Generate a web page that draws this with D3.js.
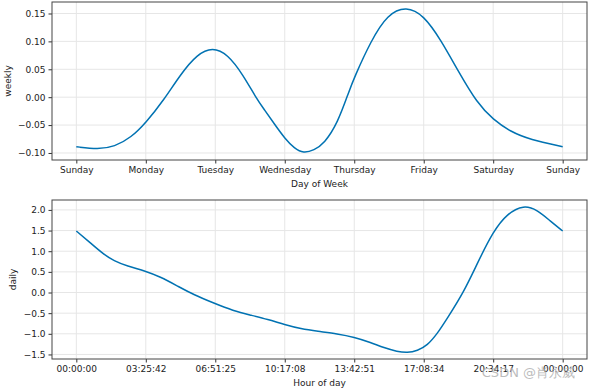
<!DOCTYPE html>
<html>
<head>
<meta charset="utf-8">
<script src="https://cdn.jsdelivr.net/npm/d3@7"></script>
<style>
  body { margin: 0; background: #fff; }
  svg text { font-family: "DejaVu Sans", sans-serif; }
</style>
</head>
<body>
<div id="chart"></div>
<script>
// weekly component (x = day offset from Sunday)
var weekDays = ["Sunday", "Monday", "Tuesday", "Wednesday", "Thursday", "Friday", "Saturday", "Sunday"];
var weeklyX = [0, 0.31, 0.55, 0.79, 1.0, 1.26, 1.5, 1.74, 1.96, 2.18, 2.4, 2.59, 2.71, 2.85, 3.0, 3.14, 3.27, 3.42, 3.57, 3.76, 3.93, 4.0, 4.24, 4.48, 4.75, 5.0, 5.25, 5.49, 5.77, 6.0, 6.25, 6.53, 7.0];
var weeklyY = [-0.0887, -0.0937, -0.0889, -0.072, -0.046, -0.005, 0.041, 0.077, 0.0895, 0.077, 0.040, -0.002, -0.023, -0.048, -0.074, -0.092, -0.1005, -0.0952, -0.0827, -0.047, 0.0125, 0.035, 0.101, 0.149, 0.163, 0.147, 0.102, 0.048, -0.011, -0.040, -0.062, -0.076, -0.0887];
var weeklyTicks = [0.15, 0.10, 0.05, 0.00, -0.05, -0.10];

// daily component (x = hour of day)
var hourLabels = ["00:00:00", "03:25:42", "06:51:25", "10:17:08", "13:42:51", "17:08:34", "20:34:17", "00:00:00"];
var dailyX = [0, 0.70, 1.36, 1.85, 2.5, 3.43, 4.13, 4.95, 5.77, 6.8, 7.73, 8.62, 9.44, 10.29, 11.08, 11.9, 12.89, 13.71, 14.53, 15.18, 15.84, 16.33, 16.83, 17.32, 17.81, 18.31, 19.13, 19.79, 20.57, 21.26, 22.08, 22.74, 23.39, 24];
var dailyY = [1.49, 1.20, 0.92, 0.77, 0.64, 0.52, 0.38, 0.17, -0.05, -0.26, -0.44, -0.55, -0.65, -0.78, -0.88, -0.94, -1.0, -1.08, -1.21, -1.34, -1.43, -1.46, -1.41, -1.28, -1.0, -0.62, 0.02, 0.71, 1.48, 1.91, 2.12, 2.0, 1.73, 1.49];
var dailyTicks = [2.0, 1.5, 1.0, 0.5, 0.0, -0.5, -1.0, -1.5];

var W = 590, H = 392;
var svg = d3.select("#chart").append("svg")
  .attr("width", W)
  .attr("height", H);

function panel(opt) {
  var x = d3.scaleLinear().domain(opt.xDomain).range([52, 587]);
  var y = d3.scaleLinear().domain(opt.yDomain).range([opt.bottom, opt.top]);
  var g = svg.append("g");

  // grid
  g.append("g").selectAll("line")
    .data(opt.xTicks)
    .enter().append("line")
    .attr("x1", function(d) { return x(d); })
    .attr("x2", function(d) { return x(d); })
    .attr("y1", opt.top).attr("y2", opt.bottom)
    .style("stroke", "#e6e6e6").style("stroke-width", 1);
  g.append("g").selectAll("line")
    .data(opt.yTicks)
    .enter().append("line")
    .attr("x1", 52).attr("x2", 587)
    .attr("y1", function(d) { return y(d); })
    .attr("y2", function(d) { return y(d); })
    .style("stroke", "#e6e6e6").style("stroke-width", 1);

  // the curve (basis smooths out reading noise between the sampled points)
  var line = d3.line()
    .x(function(d) { return x(d[0]); })
    .y(function(d) { return y(d[1]); })
    .curve(d3.curveBasis);
  g.append("path")
    .datum(opt.xs.map(function(v, i) { return [v, opt.ys[i]]; }))
    .attr("d", line)
    .style("fill", "none")
    .style("stroke", "#0072B2")
    .style("stroke-width", 1.5);

  // axes
  var xAxis = d3.axisBottom(x)
    .tickValues(opt.xTicks)
    .tickFormat(function(d, i) { return opt.xLabels[i]; })
    .tickSizeOuter(0).tickSize(3.5).tickPadding(3);
  var yAxis = d3.axisLeft(y)
    .tickValues(opt.yTicks)
    .tickFormat(opt.yFormat)
    .tickSizeOuter(0).tickSize(3.5).tickPadding(3);

  var ax = g.append("g").attr("transform", "translate(0," + opt.bottom + ")").call(xAxis);
  var ay = g.append("g").attr("transform", "translate(52,0)").call(yAxis);
  [ax, ay].forEach(function(a) {
    a.select(".domain").remove();
    a.selectAll("line").style("stroke", "#333");
    a.selectAll("text").style("font-size", "9px").style("fill", "#222");
  });

  // frame
  g.append("rect")
    .attr("x", 52).attr("y", opt.top)
    .attr("width", 535).attr("height", opt.bottom - opt.top)
    .style("fill", "none").style("stroke", "#444").style("stroke-width", 1);

  // labels
  g.append("text")
    .attr("x", (52 + 587) / 2).attr("y", opt.bottom + 27)
    .attr("text-anchor", "middle")
    .style("font-size", "9px").style("fill", "#222")
    .text(opt.xTitle);
  g.append("text")
    .attr("transform", "translate(" + opt.yTitleX + "," + ((opt.top + opt.bottom) / 2) + ") rotate(-90)")
    .attr("text-anchor", "middle")
    .style("font-size", "9px").style("fill", "#222")
    .text(opt.yTitle);
}

panel({
  top: 2, bottom: 160,
  xDomain: [-0.35, 7.35], yDomain: [-0.1126, 0.1706],
  xs: weeklyX, ys: weeklyY,
  xTicks: d3.range(8), xLabels: weekDays,
  yTicks: weeklyTicks, yFormat: function(d) { return d3.format(".2f")(d).replace("-", "\u2212"); },
  xTitle: "Day of Week", yTitle: "weekly", yTitleX: 11
});

panel({
  top: 200, bottom: 359,
  xDomain: [-1.2, 25.2], yDomain: [-1.61, 2.24],
  xs: dailyX, ys: dailyY,
  xTicks: d3.range(8).map(function(k) { return k * 24 / 7; }), xLabels: hourLabels,
  yTicks: dailyTicks, yFormat: function(d) { return d3.format(".1f")(d).replace("-", "\u2212"); },
  xTitle: "Hour of day", yTitle: "daily", yTitleX: 16
});

// watermark (sits over the last tick labels, as in the source image)
svg.append("text")
  .attr("x", 575).attr("y", 377)
  .attr("text-anchor", "end")
  .style("font-size", "13px")
  .style("fill", "#b0b0b0")
  .style("fill-opacity", 0.85)
  .text("CSDN @肖永威");
</script>
</body>
</html>
